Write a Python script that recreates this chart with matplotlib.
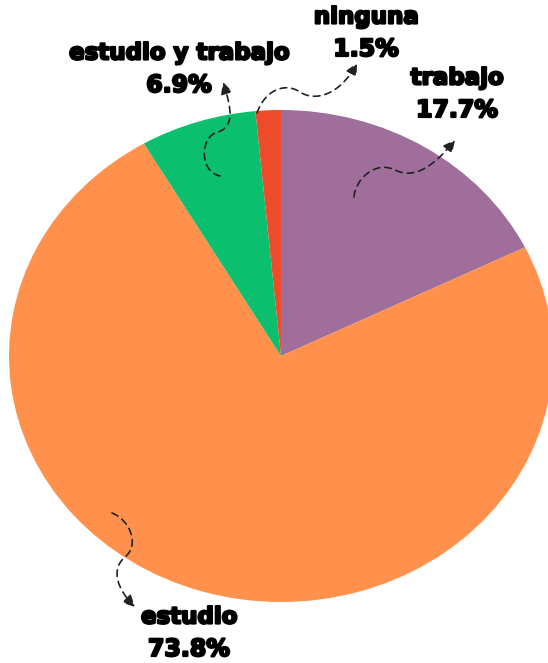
import matplotlib
matplotlib.use("Agg")
import matplotlib.pyplot as plt
import matplotlib.patheffects as pe
from matplotlib.patches import FancyArrowPatch
from matplotlib.path import Path

# data (clockwise from 12 o'clock)
labels = ['trabajo', 'estudio', 'estudio y trabajo', 'ninguna']
values = [17.7, 73.8, 6.9, 1.5]
colors = ['#A06E9A', '#FF914D', '#0BBF6E', '#EE4B2B']

W, H = 548, 663
fig = plt.figure(figsize=(W / 100, H / 100), dpi=100)

# pie axes sized to the (stretched) ellipse
cx, cy, rx, ry = 281, 356, 272, 246
ax = fig.add_axes([(cx - rx) / W, (H - cy - ry) / H, 2 * rx / W, 2 * ry / H])
ax.pie(values, colors=colors, startangle=90, counterclock=False,
       wedgeprops=dict(linewidth=0))
ax.set_aspect('auto')
ax.set_xlim(-1, 1)
ax.set_ylim(-1, 1)
ax.axis('off')

# overlay axes in pixel coords for labels and arrows
ov = fig.add_axes([0, 0, 1, 1])
ov.set_xlim(0, W)
ov.set_ylim(H, 0)
ov.axis('off')
ov.patch.set_alpha(0)

heavy = [pe.withStroke(linewidth=1.6, foreground='black')]
font = dict(family='DejaVu Sans', fontweight='bold', color='black',
            ha='center', va='center', path_effects=heavy)
label_pos = {
    'ninguna': (366, 17),
    'estudio y trabajo': (179, 53),
    'trabajo': (457, 78),
    'estudio': (189, 617),
}
for lab, val in zip(labels, values):
    x, y = label_pos[lab]
    ov.text(x, y, lab, fontsize=16.5, **font)
    ov.text(x, y + 32, f'{val}%', fontsize=17, **font)

# squiggly dashed arrows (bezier paths in pixel coords)
arrows = [
    [(257, 113), (265, 90), (285, 82), (300, 92), (315, 102), (340, 95), (357, 63)],
    [(220, 176), (200, 172), (200, 140), (215, 133), (235, 128), (232, 110), (223, 82)],
    [(354, 197), (355, 180), (375, 160), (395, 170), (415, 180), (435, 165), (455, 140)],
    [(112, 513), (130, 520), (140, 545), (125, 557), (110, 570), (118, 590), (135, 607)],
]
for pts in arrows:
    codes = [Path.MOVETO] + [Path.CURVE4] * (len(pts) - 1)
    arr = FancyArrowPatch(path=Path(pts, codes), arrowstyle='-|>,head_length=7,head_width=3.5',
                          color='#222222', linewidth=1.2, linestyle=(0, (4, 3)),
                          transform=ov.transData)
    ov.add_patch(arr)

fig.savefig('out.png', dpi=100)
